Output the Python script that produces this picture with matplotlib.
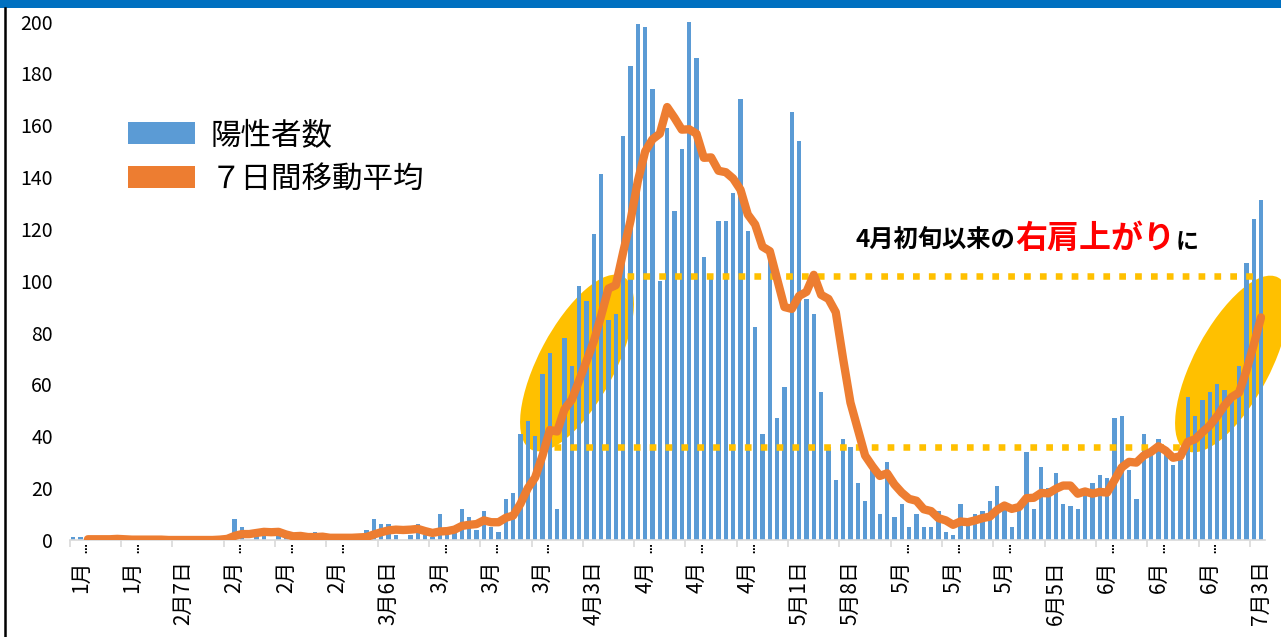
import numpy as np
import pandas as pd
import matplotlib
matplotlib.use("Agg")
import matplotlib.pyplot as plt
from matplotlib.patches import Ellipse, Rectangle, Patch
from matplotlib.lines import Line2D

plt.rcParams['font.family'] = ['Noto Sans CJK JP', 'DejaVu Sans']

# ---------------- data ----------------
dates = pd.date_range('2020-01-23', '2020-07-03', freq='D')
cases = [
    1, 1, 0, 0, 0, 0, 1, 0, 0, 0,
    0, 0, 0, 0, 0, 0, 0, 0, 0, 0,
    1, 2, 8, 5, 0, 3, 3, 0, 3, 1,
    0, 1, 0, 3, 1, 0, 1, 0, 1, 1,
    4, 8, 6, 6, 2, 0, 2, 6, 2, 1,
    10, 3, 4, 12, 9, 4, 11, 5, 3, 16,
    18, 41, 46, 40, 64, 72, 12, 78, 67, 98,
    92, 118, 141, 85, 87, 156, 183, 199, 198, 174,
    100, 159, 127, 151, 200, 186, 109, 101, 123, 123,
    134, 170, 119, 82, 41, 111, 47, 59, 165, 154,
    93, 87, 57, 36, 23, 39, 36, 22, 15, 28,
    10, 30, 9, 14, 5, 10, 5, 5, 11, 3,
    2, 14, 8, 10, 11, 15, 21, 14, 5, 13,
    34, 12, 28, 20, 26, 14, 13, 12, 18, 22,
    25, 24, 47, 48, 27, 16, 41, 35, 39, 35,
    29, 31, 55, 48, 54, 57, 60, 58, 54, 67,
    107, 124, 131,
]
tick_labels = ["1月…", "1月…", "2月7日", "2月…", "2月…", "2月…", "3月6日", "3月…",
               "3月…", "3月…", "4月3日", "4月…", "4月…", "4月…", "5月1日", "5月8日",
               "5月…", "5月…", "5月…", "6月5日", "6月…", "6月…", "6月…", "7月3日"]
legend_labels = ["陽性者数", "７日間移動平均"]
y_ticks = [0, 20, 40, 60, 80, 100, 120, 140, 160, 180, 200]

# reference levels for the dotted guide lines (value, first date idx, last date idx)
upper_level = (102, 75.5, 161.6)
lower_level = (36, 65.6, 151.6)

# ---------------- derived ----------------
s = pd.Series(cases, index=dates, dtype=float)
ma = s.rolling(7, min_periods=1).sum() / 7.0
ma.iloc[:2] = np.nan
x = np.arange(len(dates))

# ---------------- figure ----------------
W, H = 1281, 637
fig = plt.figure(figsize=(W / 100, H / 100), dpi=100)
left_px, right_px, top_px, bottom_px = 69.6, 1264.7, 21.5, 540
ax = fig.add_axes([left_px / W, 1 - bottom_px / H,
                   (right_px - left_px) / W, (bottom_px - top_px) / H])

BLUE = '#5B9BD5'
ORANGE = '#ED7D31'
GOLD = '#FFC000'

# highlight ellipses (in figure-inch coordinates)
for cx, cy in [(577, 363), (1232, 364)]:
    e = Ellipse((cx / 100, (H - cy) / 100), 1.96, 0.76, angle=62,
                transform=fig.dpi_scale_trans, facecolor=GOLD, edgecolor='none',
                zorder=1, clip_on=False)
    ax.add_patch(e)

ax.bar(x, s.values, width=0.6, color=BLUE, zorder=2)

for lvl, x0, x1 in [upper_level, lower_level]:
    ax.plot([x0, x1], [lvl, lvl], color=GOLD, lw=4.7,
            linestyle=(0, (1.03, 1.4)), dash_capstyle='butt', zorder=3)

ax.plot(x, ma.values, color=ORANGE, lw=6, solid_joinstyle='round',
        solid_capstyle='round', zorder=4)

ax.set_xlim(-0.5, len(dates) - 0.5)
ax.set_ylim(0, 200)

for sp in ['top', 'right', 'left']:
    ax.spines[sp].set_visible(False)
ax.spines['bottom'].set_color('#D9D9D9')
ax.spines['bottom'].set_linewidth(1.2)

# category labels: Excel truncates long ones with an ellipsis drawn near the axis
label_pos = np.arange(1, len(dates), 7)
shown = [t[:-1] if t.endswith('…') else t for t in tick_labels]
ax.set_xticks(label_pos)
ax.set_xticklabels(shown, rotation=90, fontsize=15, va='top', ha='center')
ax.set_xticks(np.arange(-0.5, len(dates), 7), minor=True)
ax.tick_params(axis='x', which='major', length=0, pad=14.5)
ax.tick_params(axis='x', which='minor', length=5, color='#D9D9D9', width=1.2)
for p, t in zip(label_pos, tick_labels):
    if t.endswith('…'):
        ax.annotate('…', xy=(p, 0), xycoords=('data', 'axes fraction'),
                    xytext=(4, -3), textcoords='offset pixels', rotation=90,
                    ha='center', va='top', fontsize=7, fontweight='bold',
                    family='DejaVu Sans', annotation_clip=False)

ax.set_yticks(y_ticks)
ax.set_yticklabels([str(v) for v in y_ticks], fontsize=14)
ax.tick_params(axis='y', length=0, pad=12)

handles = [Patch(facecolor=BLUE), Patch(facecolor=ORANGE)]
fig.legend(handles, legend_labels, loc='upper left',
           bbox_to_anchor=(128 / W, 1 - 120 / H), frameon=False, fontsize=22,
           handlelength=2.2, handleheight=0.72, handletextpad=0.5,
           labelspacing=0.41, borderaxespad=0, borderpad=0)

base = 1 - 248 / H
fig.text(856 / W, base, "4月初旬以来の", fontsize=17.5, fontweight='bold',
         va='baseline', ha='left', color='black')
fig.text(1015 / W, base, "右肩上がり", fontsize=23, fontweight='bold',
         va='baseline', ha='left', color='#FF0000')
fig.text(1176 / W, base, "に", fontsize=16.5, fontweight='bold',
         va='baseline', ha='left', color='black')

# frame decorations
fig.add_artist(Rectangle((0, 1 - 8.3 / H), 1, 8.3 / H, transform=fig.transFigure,
                         facecolor='#0070C0', edgecolor='none'))
fig.add_artist(Line2D([5 / W, 5 / W], [0, 1 - 8 / H], transform=fig.transFigure,
                      color='black', lw=1.8))

fig.savefig('out.png', dpi=100)
